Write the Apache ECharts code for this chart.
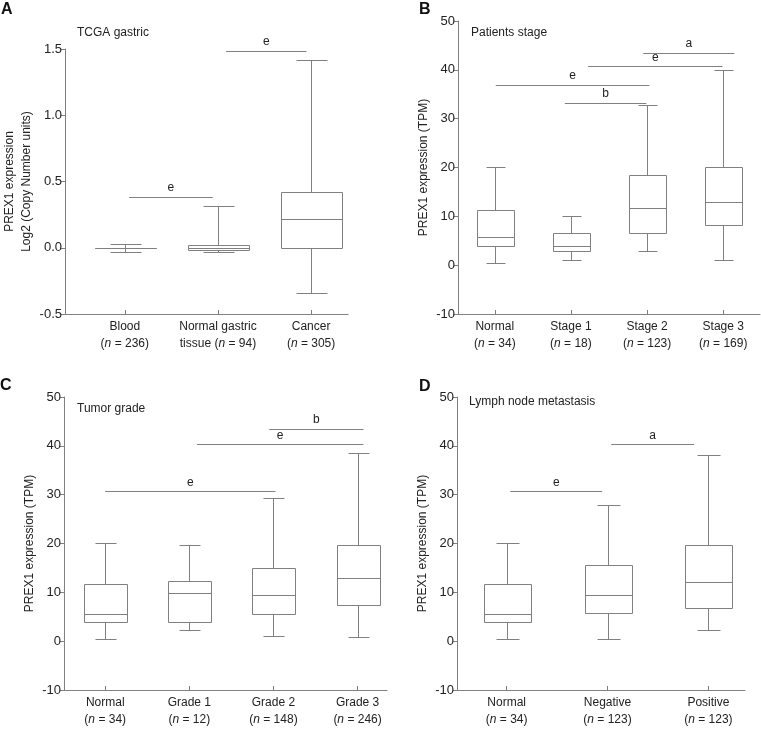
<!DOCTYPE html>
<html>
<head>
<meta charset="utf-8">
<script src="https://cdn.jsdelivr.net/npm/echarts@6/dist/echarts.min.js"></script>
<style>
  html, body { margin: 0; padding: 0; background: #fff; }
  #main { width: 761px; height: 734px; }
</style>
</head>
<body>
<div id="main"></div>
<script>
// categories, group sizes and box stats [min, q1, median, q3, max]
var catsA = ['Blood', 'Normal gastric|tissue', 'Cancer'];
var nA = [236, 94, 305];
var boxA = [
  [-0.03, 0, 0, 0, 0.03],
  [-0.03, -0.015, 0, 0.017, 0.314],
  [-0.34, 0, 0.219, 0.422, 1.415]
];
// significance bars [from, to, height, mark]
var sigA = [[1.046, 1.944, 0.385, 'e'], [2.088, 2.95, 1.487, 'e']];

var catsB = ['Normal', 'Stage 1', 'Stage 2', 'Stage 3'];
var nB = [34, 18, 123, 169];
var boxB = [
  [0.5, 4.0, 5.7, 11.2, 20.1],
  [1.0, 2.9, 4.0, 6.6, 10.0],
  [2.9, 6.5, 11.8, 18.4, 32.7],
  [1.0, 8.2, 12.9, 20.1, 40.0]
];
var sigB = [[2.95, 4.145, 43.5, 'a'], [2.226, 3.99, 40.7, 'e'], [1.013, 3.03, 36.9, 'e'], [1.92, 2.99, 33.2, 'b']];

var catsC = ['Normal', 'Grade 1', 'Grade 2', 'Grade 3'];
var nC = [34, 12, 148, 246];
var boxC = [
  [0.5, 4.0, 5.6, 11.7, 20.1],
  [2.2, 4.0, 9.9, 12.4, 19.6],
  [1.0, 5.6, 9.5, 14.9, 29.3],
  [0.95, 7.5, 12.9, 19.6, 38.6]
];
var sigC = [[2.95, 4.07, 43.5, 'b'], [2.09, 4.07, 40.3, 'e'], [1.0, 3.025, 30.7, 'e']];

var catsD = ['Normal', 'Negative', 'Positive'];
var nD = [34, 123, 123];
var boxD = [
  [0.5, 4.0, 5.6, 11.7, 20.1],
  [0.5, 5.8, 9.5, 15.5, 27.8],
  [2.2, 6.7, 12.2, 19.6, 38.1]
];
var sigD = [[2.036, 2.858, 40.3, 'a'], [1.036, 1.947, 30.7, 'e']];

var LINE = '#808080';
var TEXT = '#222';
var FONT = '"Liberation Sans", Arial, sans-serif';

var chart = echarts.init(document.getElementById('main'));

function px(v) { return Math.round(v) + 0.5; }

function boxRender(bw) {
  return function (params, api) {
    var x = api.value(0);
    var lo = api.coord([x, api.value(1)]);
    var q1 = api.coord([x, api.value(2)]);
    var md = api.coord([x, api.value(3)]);
    var q3 = api.coord([x, api.value(4)]);
    var hi = api.coord([x, api.value(5)]);
    var w = api.size([bw, 0])[0];
    var cx = px(lo[0]);
    var l = px(cx - w / 2), r = px(cx + w / 2);
    var cl = px(cx - w / 4), cr = px(cx + w / 4);
    var st = { stroke: LINE, lineWidth: 1, fill: null };
    function ln(x1, y1, x2, y2) {
      return { type: 'line', shape: { x1: x1, y1: y1, x2: x2, y2: y2 }, style: st };
    }
    return {
      type: 'group',
      children: [
        { type: 'rect', shape: { x: l, y: px(q3[1]), width: r - l, height: px(q1[1]) - px(q3[1]) }, style: st },
        ln(l, px(md[1]), r, px(md[1])),
        ln(cx, px(hi[1]), cx, px(q3[1])),
        ln(cx, px(q1[1]), cx, px(lo[1])),
        ln(cl, px(hi[1]), cr, px(hi[1])),
        ln(cl, px(lo[1]), cr, px(lo[1]))
      ]
    };
  };
}

function sigRender(list) {
  return function (params, api) {
    var y = api.value(2);
    var p1 = api.coord([api.value(0), y]);
    var p2 = api.coord([api.value(1), y]);
    return {
      type: 'group',
      children: [
        { type: 'line', shape: { x1: p1[0], y1: px(p1[1]), x2: p2[0], y2: px(p2[1]) },
          style: { stroke: LINE, lineWidth: 1 } },
        { type: 'text', x: (p1[0] + p2[0]) / 2, y: p1[1] - 3,
          style: { text: list[params.dataIndex][3], fill: TEXT, font: '12px ' + FONT,
                   textAlign: 'center', textVerticalAlign: 'bottom' } }
      ]
    };
  };
}

function xLabel(cats, ns) {
  return function (v) {
    var i = Math.round(v) - 1;
    var parts = cats[i].split('|');
    if (parts.length > 1) {
      return '{a|' + parts[0] + '}\n{a|' + parts[1] + ' (}{i|n}{a| = ' + ns[i] + ')}';
    }
    return '{a|' + parts[0] + '}\n{a|(}{i|n}{a| = ' + ns[i] + ')}';
  };
}

function xAxis(idx, cats, ns, min, max) {
  var vals = cats.map(function (c, i) { return i + 1; });
  return {
    type: 'value', gridIndex: idx, min: min, max: max,
    splitLine: { show: false },
    axisLine: { show: true, onZero: false, lineStyle: { color: LINE, width: 1 } },
    axisTick: { show: true, inside: true, length: 4, customValues: vals, lineStyle: { color: LINE } },
    axisLabel: {
      customValues: vals, margin: 4, formatter: xLabel(cats, ns),
      rich: {
        a: { fontSize: 12, lineHeight: 17, color: TEXT, fontFamily: FONT },
        i: { fontSize: 12, lineHeight: 17, color: TEXT, fontFamily: FONT, fontStyle: 'italic' }
      }
    }
  };
}

function yAxis(idx, min, max, interval, name, gap, dec) {
  return {
    type: 'value', gridIndex: idx, min: min, max: max, interval: interval,
    name: name, nameLocation: 'middle', nameGap: gap,
    nameTextStyle: { fontSize: 12, lineHeight: 17, color: TEXT, fontFamily: FONT },
    splitLine: { show: false },
    axisLine: { show: true, onZero: false, lineStyle: { color: LINE, width: 1 } },
    axisTick: { show: true, length: 4, lineStyle: { color: LINE } },
    axisLabel: {
      margin: 3, fontSize: 13, color: TEXT, fontFamily: FONT,
      formatter: function (v) { return dec ? v.toFixed(1) : String(v); }
    }
  };
}

function boxSeries(idx, stats, bw) {
  return {
    type: 'custom', xAxisIndex: idx, yAxisIndex: idx,
    renderItem: boxRender(bw),
    encode: { x: 0, y: [1, 2, 3, 4, 5] },
    data: stats.map(function (s, i) { return [i + 1].concat(s); }),
    silent: true
  };
}

function sigSeries(idx, list) {
  return {
    type: 'custom', xAxisIndex: idx, yAxisIndex: idx,
    renderItem: sigRender(list),
    encode: { x: [0, 1], y: 2 },
    data: list.map(function (s) { return [s[0], s[1], s[2]]; }),
    silent: true
  };
}

function panelTitle(text, left, top, bold) {
  return {
    text: text, left: left, top: top, padding: 0,
    textStyle: bold
      ? { fontSize: 16, fontWeight: 'bold', color: '#111', fontFamily: FONT }
      : { fontSize: 12, fontWeight: 'normal', color: TEXT, fontFamily: FONT }
  };
}

var option = {
  backgroundColor: '#fff',
  animation: false,
  title: [
    panelTitle('A', 1, 2, true),
    panelTitle('B', 419, 2, true),
    panelTitle('C', 0, 378, true),
    panelTitle('D', 419, 379, true),
    panelTitle('TCGA gastric', 77, 27),
    panelTitle('Patients stage', 471, 27),
    panelTitle('Tumor grade', 77, 403),
    panelTitle('Lymph node metastasis', 469, 396)
  ],
  grid: [
    { left: 64, top: 49, width: 284, height: 265 },
    { left: 458, top: 21, width: 302, height: 293 },
    { left: 64, top: 397, width: 323, height: 293 },
    { left: 457, top: 397, width: 288, height: 293 }
  ],
  xAxis: [
    xAxis(0, catsA, nA, 0.358, 3.396),
    xAxis(1, catsB, nB, 0.517, 4.483),
    xAxis(2, catsC, nC, 0.51, 4.35),
    xAxis(3, catsD, nD, 0.5075, 3.363)
  ],
  yAxis: [
    yAxis(0, -0.5, 1.5, 0.5, 'PREX1 expression\nLog2 (Copy Number units)', 30, true),
    yAxis(1, -10, 50, 10, 'PREX1 expression (TPM)', 25, false),
    yAxis(2, -10, 50, 10, 'PREX1 expression (TPM)', 25, false),
    yAxis(3, -10, 50, 10, 'PREX1 expression (TPM)', 25, false)
  ],
  series: [
    boxSeries(0, boxA, 0.65), sigSeries(0, sigA),
    boxSeries(1, boxB, 0.48), sigSeries(1, sigB),
    boxSeries(2, boxC, 0.5), sigSeries(2, sigC),
    boxSeries(3, boxD, 0.46), sigSeries(3, sigD)
  ]
};

chart.setOption(option);
</script>
</body>
</html>
